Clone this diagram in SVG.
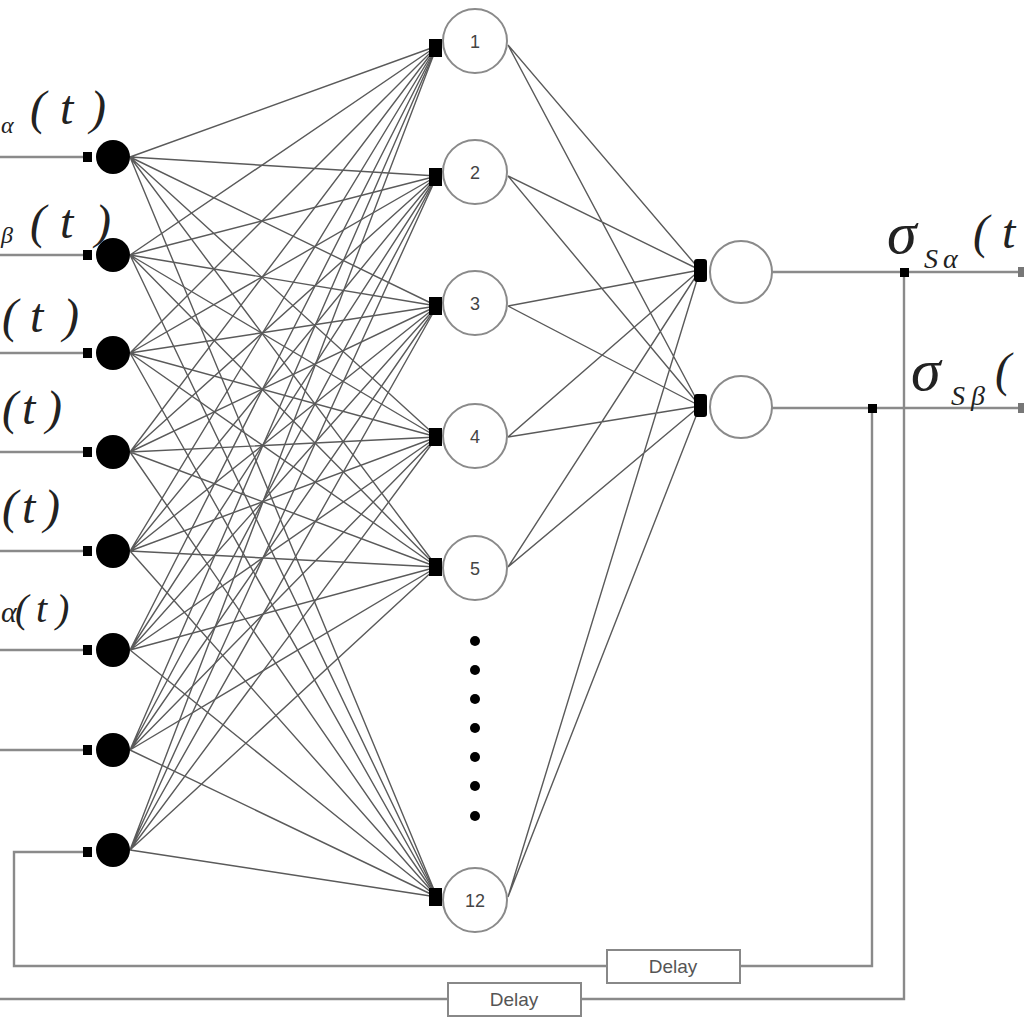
<svg xmlns="http://www.w3.org/2000/svg" width="1024" height="1024" viewBox="0 0 1024 1024">
<style>
.e{fill:none;stroke:#5a5a5a;stroke-width:1.4}
.w{fill:none;stroke:#8a8a8a;stroke-width:2.4}
.in{fill:#000}
.hn{fill:#fff;stroke:#8a8a8a;stroke-width:2}
.num{font-family:"Liberation Sans",Arial,sans-serif;font-size:18px;fill:#444;text-anchor:middle}
.lab{font-family:"Liberation Serif","Times New Roman",serif;font-style:italic;fill:#222}
.dl{font-family:"Liberation Sans",Arial,sans-serif;font-size:19px;fill:#555;text-anchor:middle}
.box{fill:#fff;stroke:#888;stroke-width:2}
</style>
<rect width="1024" height="1024" fill="#fff"/>
<g id="connectors">
<path class="e" d="M130 157L437 46M130 157L437 176M130 157L437 306M130 157L437 437M130 157L437 567M130 157L437 897"/>
<path class="e" d="M130 255L437 46M130 255L437 176M130 255L437 306M130 255L437 437M130 255L437 567M130 255L437 897"/>
<path class="e" d="M130 353L437 46M130 353L437 176M130 353L437 306M130 353L437 437M130 353L437 567M130 353L437 897"/>
<path class="e" d="M130 452L437 46M130 452L437 176M130 452L437 306M130 452L437 437M130 452L437 567M130 452L437 897"/>
<path class="e" d="M130 551L437 46M130 551L437 176M130 551L437 306M130 551L437 437M130 551L437 567M130 551L437 897"/>
<path class="e" d="M130 650L437 46M130 650L437 176M130 650L437 306M130 650L437 437M130 650L437 567M130 650L437 897"/>
<path class="e" d="M130 750L437 46M130 750L437 176M130 750L437 306M130 750L437 437M130 750L437 567M130 750L437 897"/>
<path class="e" d="M130 850L437 46M130 850L437 176M130 850L437 306M130 850L437 437M130 850L437 567M130 850L437 897"/>
<path class="e" d="M508 45L700 270M508 45L700 406M508 176L700 270M508 176L700 406M508 306L700 270M508 306L700 406M508 437L700 270M508 437L700 406M508 567L700 270M508 567L700 406M508 897L700 270M508 897L700 406"/>
<path class="w" d="M0 157H86M0 255H86M0 353H86M0 452H86M0 551H86M0 650H86M0 750H86"/>
<path class="w" d="M86 852H14V966H607M740 966H872V408"/>
<path class="w" d="M0 999H448M581 999H904V272"/>
<path class="w" d="M772 272H1024M772 408H1024"/>
<g fill="#000">
<rect x="83" y="152" width="9" height="10"/><rect x="83" y="250" width="9" height="10"/><rect x="83" y="348" width="9" height="10"/><rect x="83" y="447" width="9" height="10"/><rect x="83" y="546" width="9" height="10"/><rect x="83" y="645" width="9" height="10"/><rect x="83" y="745" width="9" height="10"/><rect x="83" y="847" width="9" height="10"/>
<rect x="900" y="268" width="9" height="9"/><rect x="868" y="404" width="9" height="9"/>
</g>
<rect x="1018" y="267" width="8" height="10" fill="#777"/><rect x="1018" y="403" width="8" height="10" fill="#777"/>
</g>
<g id="in1"><circle class="in" cx="113" cy="157" r="17"/></g>
<g id="in2"><circle class="in" cx="113" cy="255" r="17"/></g>
<g id="in3"><circle class="in" cx="113" cy="353" r="17"/></g>
<g id="in4"><circle class="in" cx="113" cy="452" r="17"/></g>
<g id="in5"><circle class="in" cx="113" cy="551" r="17"/></g>
<g id="in6"><circle class="in" cx="113" cy="650" r="17"/></g>
<g id="in7"><circle class="in" cx="113" cy="750" r="17"/></g>
<g id="in8"><circle class="in" cx="113" cy="850" r="17"/></g>
<g id="h1"><circle class="hn" cx="475" cy="41" r="32"/><rect x="429" y="39" width="13" height="18"/><text class="num" x="475" y="48">1</text></g>
<g id="h2"><circle class="hn" cx="475" cy="172" r="32"/><rect x="429" y="168" width="13" height="18"/><text class="num" x="475" y="179">2</text></g>
<g id="h3"><circle class="hn" cx="475" cy="303" r="32"/><rect x="429" y="297" width="13" height="18"/><text class="num" x="475" y="310">3</text></g>
<g id="h4"><circle class="hn" cx="475" cy="436" r="32"/><rect x="429" y="428" width="13" height="18"/><text class="num" x="475" y="443">4</text></g>
<g id="h5"><circle class="hn" cx="475" cy="568" r="32"/><rect x="429" y="558" width="13" height="18"/><text class="num" x="475" y="575">5</text></g>
<g id="dots" fill="#000"><circle cx="475" cy="641" r="5"/><circle cx="475" cy="670" r="5"/><circle cx="475" cy="699" r="5"/><circle cx="475" cy="728" r="5"/><circle cx="475" cy="757" r="5"/><circle cx="475" cy="786" r="5"/><circle cx="475" cy="816" r="5"/></g>
<g id="h12"><circle class="hn" cx="475" cy="900" r="32"/><rect x="429" y="888" width="13" height="18"/><text class="num" x="475" y="907">12</text></g>
<g id="o1"><circle class="hn" cx="741" cy="272" r="31"/><rect x="694" y="259" width="13" height="23" rx="3"/></g>
<g id="o2"><circle class="hn" cx="741" cy="407" r="31"/><rect x="694" y="394" width="13" height="23" rx="3"/></g>
<g id="delay1"><rect class="box" x="607" y="950" width="133" height="33"/><text class="dl" x="673" y="973">Delay</text></g>
<g id="delay2"><rect class="box" x="448" y="983" width="133" height="33"/><text class="dl" x="514" y="1006">Delay</text></g>
<g id="labels">
<text class="lab" font-size="24" x="1" y="133">α</text>
<text class="lab" font-size="48" x="30 60 90" y="124">(t)</text>
<text class="lab" font-size="24" x="1" y="243">β</text>
<text class="lab" font-size="48" x="30 60 95" y="238">(t)</text>
<text class="lab" font-size="48" x="2 30 63" y="332">(t)</text>
<text class="lab" font-size="48" x="2 22 46" y="424">(t)</text>
<text class="lab" font-size="48" x="2 22 44" y="523">(t)</text>
<text class="lab" font-size="30" x="1 15 36 56" y="622">α</text>
<text class="lab" font-size="40" x="15 36 56" y="622">(t)</text>
<text class="lab" font-size="60" x="887" y="253">σ</text>
<text class="lab" font-size="28" x="924 943" y="268">Sα</text>
<text class="lab" font-size="48" x="973 1002" y="248">(t</text>
<text class="lab" font-size="60" x="911" y="390">σ</text>
<text class="lab" font-size="28" x="951 971" y="405">Sβ</text>
<text class="lab" font-size="48" x="995" y="386">(</text>
</g>
</svg>
